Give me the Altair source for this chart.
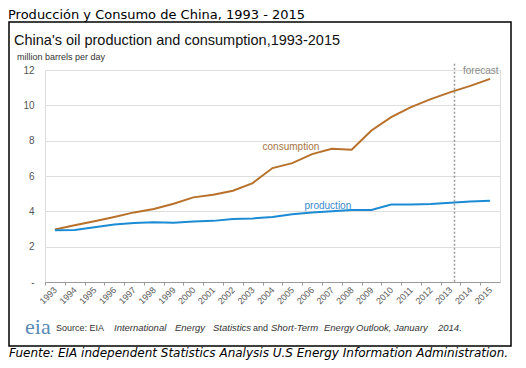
import altair as alt
import pandas as pd

years = list(range(1993, 2016))
consumption = [2.97, 3.21, 3.44, 3.68, 3.94, 4.13, 4.43, 4.79, 4.94, 5.17, 5.60, 6.45,
               6.73, 7.24, 7.54, 7.49, 8.58, 9.33, 9.90, 10.35, 10.75, 11.10, 11.50]
production = [2.93, 2.95, 3.10, 3.25, 3.34, 3.38, 3.36, 3.42, 3.46, 3.57, 3.60, 3.68,
              3.83, 3.93, 4.00, 4.08, 4.08, 4.38, 4.38, 4.42, 4.49, 4.56, 4.60]
y_ticks = [0, 2, 4, 6, 8, 10, 12]
forecast_year = 2013.2

outer_title = "Producción y Consumo de China, 1993 - 2015"
inner_title = "China's oil production and consumption,1993-2015"
unit_label = "million barrels per day"
caption = "Fuente: EIA independent Statistics Analysis U.S Energy Information Administration."
source_words = ["Source: EIA", "International", "Energy", "Statistics", "and",
                "Short-Term", "Energy", "Outlook,", "January", "2014."]
source_italic = [False, True, True, True, False, True, True, True, True, True]
source_x = [11, 69, 130, 168, 208, 226, 279, 311, 349, 393]

C_CONS = "#b8712a"
C_PROD = "#1b8bd3"

df = pd.DataFrame({
    "year": years * 2,
    "value": consumption + production,
    "series": ["consumption"] * len(years) + ["production"] * len(years),
})

W, H = 455, 212
band = W / 23.0

x_axis = alt.Axis(values=years, format="d", labelAngle=-45, labelAlign="right",
                  labelBaseline="middle", tickOffset=-band / 2, labelOffset=band / 2,
                  tickSize=3, tickColor="#999", domainColor="#999", grid=False,
                  title=None, labelPadding=3, labelFontSize=9, labelColor="#5a5a5a",
                  labelFont="Liberation Sans", labelOverlap=False)
y_axis = alt.Axis(values=y_ticks, title=None, domain=False, ticks=False,
                  gridColor="#dedede", labelExpr="datum.value == 0 ? '-' : datum.label",
                  labelPadding=11, labelFontSize=10, labelColor="#555",
                  labelFont="Liberation Sans", labelOverlap=False)
x_scale = alt.Scale(domain=[1992.5, 2015.5], nice=False, zero=False)
y_scale = alt.Scale(domain=[0, 12], nice=False)

def X(field="year"):
    return alt.X(f"{field}:Q", scale=x_scale, axis=x_axis)

def Y(field="value"):
    return alt.Y(f"{field}:Q", scale=y_scale, axis=y_axis)

lines = alt.Chart(df).mark_line(strokeWidth=2).encode(
    x=X(), y=Y(),
    color=alt.Color("series:N", scale=alt.Scale(domain=["consumption", "production"],
                                                 range=[C_CONS, C_PROD]), legend=None),
)

fc = pd.DataFrame({"year": [forecast_year], "value": [12.35], "v2": [0]})
rule = alt.Chart(fc).mark_rule(strokeDash=[2, 2], color="#999", strokeWidth=1.5).encode(
    x=X(), y=Y(), y2="v2:Q")

def lab(text, xv, yv, color, align="center", size=10):
    d = pd.DataFrame({"year": [xv], "value": [yv]})
    return alt.Chart(d).mark_text(text=text, color=color, align=align, baseline="middle",
                                  fontSize=size, font="Liberation Sans").encode(
        x=X(), y=Y())

cons_lab = lab("consumption", 2004.93, 7.65, "#a8743f")
prod_lab = lab("production", 2006.8, 4.32, "#3a8ad0")
fc_lab = lab("forecast", 2013.63, 11.97, "#8a8a8a", align="left")

one = pd.DataFrame({"k": [0]})

def txt(text, px, py, size, color="#222", font="Liberation Sans", style="normal",
        baseline="middle"):
    return alt.Chart(one).mark_text(text=text, align="left", baseline=baseline, fontSize=size,
                                    color=color, font=font, fontStyle=style).encode(
        x=alt.value(px), y=alt.value(py))

frame = alt.Chart(one).mark_rect(fillOpacity=0, stroke="#000", strokeWidth=1.5).encode(
    x=alt.value(-36), x2=alt.value(466), y=alt.value(-48), y2=alt.value(276))

texts = [
    txt(outer_title, -37, -51.5, 13, color="#000", font="DejaVu Sans", baseline="alphabetic"),
    txt(inner_title, -31, -25, 14.5, color="#111", baseline="alphabetic"),
    txt(unit_label, -28, -13, 9, color="#333"),
    txt("eia", -20, 264, 22, color="#5a8ab5", font="Liberation Serif", baseline="alphabetic"),
    txt(caption, -36, 287, 12, color="#000", font="DejaVu Sans", style="italic",
        baseline="alphabetic"),
]
for w, it, sx in zip(source_words, source_italic, source_x):
    texts.append(txt(w, sx, 258, 9.5 if it else 9, color="#333",
                     style="italic" if it else "normal"))

chart = alt.layer(lines, rule, cons_lab, prod_lab, fc_lab, frame, *texts).properties(
    width=W, height=H,
    autosize=alt.AutoSizeParams(type="none"),
    padding={"left": 37, "top": 62, "right": 16, "bottom": 78},
).configure_view(strokeWidth=0).configure(background="#ffffff").configure_axis(
    labelOverlap=False)

chart.save("out.html", embed_options={"renderer": "svg", "actions": False})
